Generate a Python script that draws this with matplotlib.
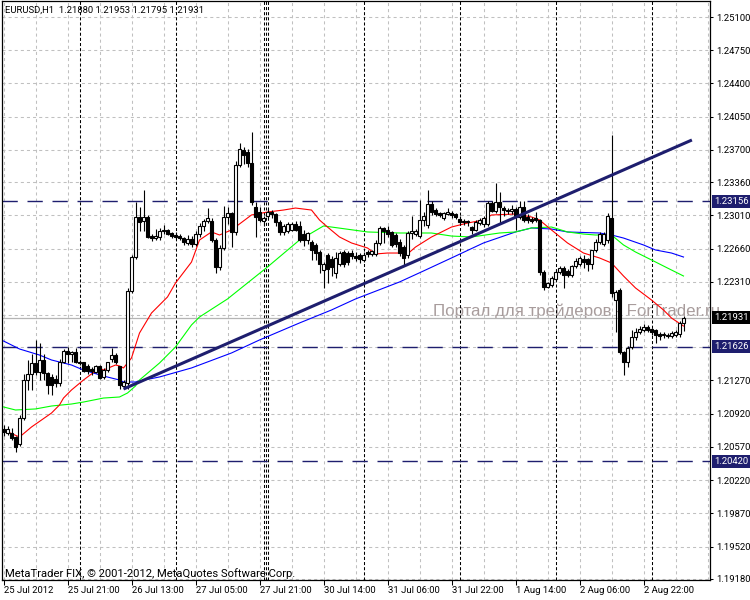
import matplotlib
matplotlib.use("Agg")
import matplotlib.pyplot as plt
import numpy as np

plt.rcParams['font.family'] = ['Roboto', 'DejaVu Sans']
plt.rcParams['lines.scale_dashes'] = False

# ---- hourly EURUSD candles (bar index 0 = 25 Jul 2012 05:00) ----
opens = [1.2076, 1.2072, 1.2072, 1.2067, 1.2060, 1.2087, 1.2127, 1.2134, 1.2145, 1.2136,
         1.2149, 1.2135, 1.2131, 1.2129, 1.2124, 1.2147, 1.2158, 1.2155, 1.2157, 1.2147,
         1.2147, 1.2142, 1.2139, 1.2136, 1.2142, 1.2131, 1.2138, 1.2150, 1.2154, 1.2142,
         1.2121, 1.2124, 1.2221, 1.2257, 1.2299, 1.2295, 1.2299, 1.2279, 1.2277, 1.2278,
         1.2284, 1.2286, 1.2282, 1.2280, 1.2279, 1.2277, 1.2272, 1.2276, 1.2271, 1.2281,
         1.2290, 1.2295, 1.2295, 1.2275, 1.2247, 1.2267, 1.2299, 1.2303, 1.2283, 1.2354,
         1.2370, 1.2368, 1.2356, 1.2310, 1.2305, 1.2295, 1.2300, 1.2305, 1.2302, 1.2294,
         1.2283, 1.2285, 1.2286, 1.2292, 1.2290, 1.2281, 1.2275, 1.2273, 1.2270, 1.2262,
         1.2243, 1.2259, 1.2255, 1.2240, 1.2250, 1.2262, 1.2261, 1.2261, 1.2258, 1.2259,
         1.2254, 1.2262, 1.2260, 1.2260, 1.2272, 1.2288, 1.2286, 1.2283, 1.2280, 1.2273,
         1.2268, 1.2259, 1.2282, 1.2281, 1.2279, 1.2296, 1.2291, 1.2313, 1.2307, 1.2303,
         1.2298, 1.2302, 1.2304, 1.2302, 1.2297, 1.2295, 1.2295, 1.2289, 1.2286, 1.2293,
         1.2292, 1.2292, 1.2314, 1.2306, 1.2315, 1.2309, 1.2307, 1.2306, 1.2308, 1.2299,
         1.2310, 1.2299, 1.2297, 1.2298, 1.2296, 1.2241, 1.2226, 1.2228, 1.2234, 1.2241,
         1.2246, 1.2242, 1.2238, 1.2248, 1.2250, 1.2255, 1.2255, 1.2250, 1.2264, 1.2273,
         1.2271, 1.2275, 1.2298, 1.2212, 1.2222, 1.2157, 1.2146, 1.2162, 1.2173, 1.2178,
         1.2180, 1.2183, 1.2181, 1.2180, 1.2176, 1.2175, 1.2175, 1.2174, 1.2175, 1.2176,
         1.21880]
highs = [1.2080, 1.2079, 1.2077, 1.2068, 1.2091, 1.2134, 1.2149, 1.2155, 1.2170, 1.2167,
         1.2155, 1.2136, 1.2134, 1.2133, 1.2150, 1.2160, 1.2162, 1.2158, 1.2161, 1.2149,
         1.2147, 1.2144, 1.2141, 1.2143, 1.2143, 1.2140, 1.2147, 1.2161, 1.2156, 1.2142,
         1.2127, 1.2224, 1.2259, 1.2315, 1.2310, 1.2328, 1.2301, 1.2281, 1.2287, 1.2288,
         1.2291, 1.2287, 1.2283, 1.2283, 1.2281, 1.2278, 1.2280, 1.2279, 1.2284, 1.2293,
         1.2297, 1.2309, 1.2298, 1.2277, 1.2270, 1.2311, 1.2310, 1.2305, 1.2358, 1.2377,
         1.2373, 1.2371, 1.2389, 1.2315, 1.2310, 1.2300, 1.2308, 1.2307, 1.2304, 1.2296,
         1.2292, 1.2294, 1.2294, 1.2295, 1.2295, 1.2286, 1.2283, 1.2275, 1.2272, 1.2265,
         1.2252, 1.2261, 1.2258, 1.2262, 1.2263, 1.2264, 1.2263, 1.2264, 1.2262, 1.2261,
         1.2262, 1.2264, 1.2265, 1.2275, 1.2290, 1.2289, 1.2290, 1.2285, 1.2282, 1.2276,
         1.2270, 1.2284, 1.2300, 1.2287, 1.2317, 1.2305, 1.2328, 1.2316, 1.2309, 1.2305,
         1.2305, 1.2309, 1.2306, 1.2304, 1.2300, 1.2297, 1.2296, 1.2290, 1.2296, 1.2298,
         1.2300, 1.2316, 1.2316, 1.2335, 1.2326, 1.2311, 1.2309, 1.2312, 1.2310, 1.2316,
         1.2316, 1.2302, 1.2299, 1.2305, 1.2297, 1.2243, 1.2231, 1.2237, 1.2244, 1.2248,
         1.2248, 1.2244, 1.2249, 1.2256, 1.2258, 1.2259, 1.2256, 1.2265, 1.2276, 1.2283,
         1.2283, 1.2303, 1.2386, 1.2222, 1.2224, 1.2158, 1.2163, 1.2180, 1.2182, 1.2184,
         1.2186, 1.2185, 1.2182, 1.2181, 1.2178, 1.2178, 1.2177, 1.2179, 1.2180, 1.2190,
         1.21953]
lows = [1.2069, 1.2070, 1.2064, 1.2052, 1.2058, 1.2085, 1.2117, 1.2117, 1.2133, 1.2128,
        1.2128, 1.2113, 1.2112, 1.2120, 1.2121, 1.2145, 1.2145, 1.2146, 1.2145, 1.2143,
        1.2136, 1.2134, 1.2133, 1.2135, 1.2129, 1.2129, 1.2136, 1.2147, 1.2144, 1.2118,
        1.2118, 1.2118, 1.2219, 1.2255, 1.2285, 1.2285, 1.2277, 1.2274, 1.2275, 1.2275,
        1.2281, 1.2280, 1.2277, 1.2276, 1.2275, 1.2270, 1.2270, 1.2268, 1.2269, 1.2278,
        1.2285, 1.2293, 1.2273, 1.2240, 1.2243, 1.2265, 1.2292, 1.2268, 1.2280, 1.2352,
        1.2355, 1.2352, 1.2312, 1.2278, 1.2294, 1.2290, 1.2298, 1.2298, 1.2290, 1.2280,
        1.2280, 1.2282, 1.2284, 1.2284, 1.2273, 1.2269, 1.2271, 1.2254, 1.2254, 1.2240,
        1.2224, 1.2230, 1.2237, 1.2235, 1.2248, 1.2247, 1.2249, 1.2255, 1.2253, 1.2251,
        1.2252, 1.2257, 1.2258, 1.2258, 1.2270, 1.2272, 1.2278, 1.2268, 1.2268, 1.2258,
        1.2249, 1.2256, 1.2276, 1.2279, 1.2277, 1.2290, 1.2288, 1.2301, 1.2300, 1.2299,
        1.2296, 1.2301, 1.2298, 1.2297, 1.2291, 1.2291, 1.2290, 1.2281, 1.2284, 1.2291,
        1.2289, 1.2290, 1.2305, 1.2304, 1.2293, 1.2300, 1.2302, 1.2302, 1.2286, 1.2297,
        1.2294, 1.2293, 1.2293, 1.2294, 1.2238, 1.2222, 1.2224, 1.2226, 1.2232, 1.2239,
        1.2224, 1.2236, 1.2236, 1.2246, 1.2248, 1.2246, 1.2242, 1.2244, 1.2262, 1.2271,
        1.2269, 1.2272, 1.2215, 1.2178, 1.2155, 1.2133, 1.2141, 1.2160, 1.2170, 1.2176,
        1.2178, 1.2178, 1.2175, 1.2167, 1.2170, 1.2172, 1.2172, 1.2172, 1.2173, 1.2173,
        1.21795]
closes = [1.2073, 1.2076, 1.2066, 1.2057, 1.2087, 1.2127, 1.2134, 1.2145, 1.2136, 1.2149,
          1.2135, 1.2122, 1.2122, 1.2124, 1.2146, 1.2158, 1.2155, 1.2157, 1.2147, 1.2145,
          1.2137, 1.2137, 1.2137, 1.2142, 1.2130, 1.2138, 1.2146, 1.2154, 1.2146, 1.2122,
          1.2125, 1.2221, 1.2257, 1.2299, 1.2294, 1.2299, 1.2278, 1.2277, 1.2279, 1.2284,
          1.2286, 1.2281, 1.2279, 1.2278, 1.2277, 1.2273, 1.2276, 1.2271, 1.2281, 1.2290,
          1.2295, 1.2298, 1.2275, 1.2247, 1.2267, 1.2299, 1.2303, 1.2283, 1.2354, 1.2371,
          1.2365, 1.2356, 1.2315, 1.2299, 1.2296, 1.2298, 1.2305, 1.2302, 1.2294, 1.2283,
          1.2290, 1.2292, 1.2292, 1.2286, 1.2275, 1.2275, 1.2282, 1.2265, 1.2261, 1.2250,
          1.2250, 1.2244, 1.2247, 1.2256, 1.2261, 1.2250, 1.2252, 1.2258, 1.2256, 1.2255,
          1.2259, 1.2260, 1.2263, 1.2272, 1.2288, 1.2284, 1.2281, 1.2270, 1.2271, 1.2261,
          1.2256, 1.2282, 1.2284, 1.2285, 1.2296, 1.2300, 1.2313, 1.2305, 1.2302, 1.2301,
          1.2303, 1.2305, 1.2301, 1.2299, 1.2294, 1.2294, 1.2294, 1.2286, 1.2294, 1.2296,
          1.2298, 1.2314, 1.2306, 1.2315, 1.2310, 1.2307, 1.2306, 1.2308, 1.2300, 1.2310,
          1.2296, 1.2296, 1.2295, 1.2296, 1.2241, 1.2226, 1.2230, 1.2235, 1.2241, 1.2245,
          1.2238, 1.2238, 1.2248, 1.2253, 1.2256, 1.2252, 1.2250, 1.2264, 1.2273, 1.2281,
          1.2281, 1.2300, 1.2219, 1.2220, 1.2157, 1.2146, 1.2161, 1.2173, 1.2178, 1.2181,
          1.2183, 1.2180, 1.2178, 1.2175, 1.2174, 1.2176, 1.2174, 1.2177, 1.2178, 1.2188,
          1.21931]

# ---- moving averages (bar index, price) ----
red_bars = [0, 4, 7, 12, 14, 15, 17, 20, 24, 25, 28, 29, 30, 32, 34, 37, 41, 43, 47, 49,
            52, 54, 57, 62, 66, 70, 73, 77, 79, 81, 84, 87, 91, 93, 96, 99, 101, 103, 107,
            112, 116, 120, 122, 128, 132, 134, 137, 141, 145, 149, 152, 155, 158, 162, 165,
            167, 170]
red_vals = [1.20748, 1.20674, 1.20780, 1.20927, 1.21012, 1.21085, 1.21170, 1.21275, 1.21402,
            1.21380, 1.21433, 1.21423, 1.21402, 1.21507, 1.21770, 1.21981, 1.22150, 1.22297,
            1.22518, 1.22750, 1.22835, 1.22803, 1.22856, 1.23014, 1.23045, 1.23066, 1.23087,
            1.23066, 1.22961, 1.22887, 1.22782, 1.22719, 1.22666, 1.22603, 1.22613, 1.22613,
            1.22603, 1.22676, 1.22782, 1.22887, 1.22929, 1.22961, 1.23014, 1.23024, 1.22993,
            1.22961, 1.22856, 1.22719, 1.22613, 1.22561, 1.22508, 1.22371, 1.22245, 1.22118,
            1.22013, 1.21928, 1.21844]
green_bars = [0, 3, 8, 12, 17, 20, 25, 29, 31, 33, 34, 39, 43, 47, 49, 56, 66, 74, 80, 82,
              91, 99, 107, 112, 117, 124, 128, 132, 137, 141, 145, 148, 152, 155, 158, 162,
              166, 170]
green_vals = [1.20991, 1.20959, 1.20970, 1.21001, 1.21022, 1.21043, 1.21085, 1.21096, 1.21138,
              1.21212, 1.21275, 1.21454, 1.21623, 1.21855, 1.21939, 1.22129, 1.22466, 1.22750,
              1.22898, 1.22887, 1.22835, 1.22824, 1.22824, 1.22792, 1.22782, 1.22824, 1.22835,
              1.22877, 1.22887, 1.22835, 1.22813, 1.22803, 1.22803, 1.22698, 1.22624, 1.22540,
              1.22455, 1.22371]
blue_bars = [0, 4, 9, 12, 17, 20, 25, 29, 30, 33, 34, 39, 47, 57, 64, 74, 82, 88, 99, 105,
             112, 120, 128, 132, 137, 141, 149, 152, 155, 160, 163, 167, 170]
blue_vals = [1.21686, 1.21602, 1.21538, 1.21486, 1.21433, 1.21380, 1.21317, 1.21275, 1.21254,
             1.21254, 1.21265, 1.21307, 1.21402, 1.21560, 1.21697, 1.21876, 1.22013, 1.22129,
             1.22308, 1.22424, 1.22561, 1.22719, 1.22835, 1.22877, 1.22866, 1.22835, 1.22824,
             1.22803, 1.22771, 1.22698, 1.22645, 1.22613, 1.22571]

# ---- objects on the chart ----
trend_bars = [30, 172.1]
trend_vals = [1.21180, 1.23804]
levels = [1.23156, 1.21626, 1.20420]
bid = 1.21931
separators = [19, 43, 65, 65.5, 66, 90, 114, 138, 162]

price_ticks = [1.25100, 1.24750, 1.24400, 1.24050, 1.23700, 1.23360, 1.23010, 1.22660,
               1.22310, 1.21270, 1.20920, 1.20570, 1.20220, 1.19870, 1.19520, 1.19180]
grid_prices = price_ticks + [1.21960, 1.21620]
time_bars = [0, 16, 32, 48, 64, 80, 96, 112, 128, 144, 160]
time_labels = ['25 Jul 2012', '25 Jul 21:00', '26 Jul 13:00', '27 Jul 05:00', '27 Jul 21:00',
               '30 Jul 14:00', '31 Jul 06:00', '31 Jul 22:00', '1 Aug 14:00', '2 Aug 06:00',
               '2 Aug 22:00']

NAVY = '#1e1e6e'

fig = plt.figure(figsize=(7.5, 6), dpi=100)
fig.patch.set_facecolor('white')
ax = fig.add_axes([2 / 750, 20 / 600, 708 / 750, 579 / 600])
ax.set_facecolor('none')
ax.set_xlim(-0.375, 176.625)
ax.set_ylim(1.191677, 1.252686)

# grid
for gb in range(0, 177, 8):
    ax.axvline(gb, color='#c0c0c0', lw=0.75, dashes=(2.2, 2.2), zorder=0)
for gp in grid_prices:
    ax.axhline(gp, color='#c0c0c0', lw=0.75, dashes=(2.2, 2.2), zorder=0)

# day separators
for sb in separators:
    ax.axvline(sb, color='black', lw=0.75, dashes=(2.2, 1.5), zorder=1)

# horizontal levels and bid line
for lv in levels:
    ax.axhline(lv, color=NAVY, lw=1.0, dashes=(11, 7), zorder=2)
ax.axhline(bid, color='#b4b4b4', lw=0.9, zorder=1)

# moving averages
ax.plot(blue_bars, blue_vals, color='#0000ff', lw=0.8, zorder=3)
ax.plot(green_bars, green_vals, color='#00ff00', lw=0.8, zorder=3)
ax.plot(red_bars, red_vals, color='#ff0000', lw=0.8, zorder=3)

# candles
idx = np.arange(len(opens))
o = np.array(opens)
c = np.array(closes)
ax.vlines(idx, lows, highs, color='black', lw=0.8, zorder=4)
up = c >= o
ax.bar(idx[up], (c - o)[up], bottom=o[up], width=0.75, color='white',
       edgecolor='black', linewidth=0.8, zorder=5)
ax.bar(idx[~up], (o - c)[~up], bottom=c[~up], width=0.75, color='black',
       edgecolor='black', linewidth=0.8, zorder=5)

# trend line
ax.plot(trend_bars, trend_vals, color=NAVY, lw=2.2, solid_capstyle='butt', zorder=6)

# axes styling
for s in ax.spines.values():
    s.set_color('black')
    s.set_linewidth(0.9)
ax.yaxis.tick_right()
ax.set_yticks(price_ticks)
ax.set_yticklabels(['%.5f' % p for p in price_ticks])
ax.set_xticks(time_bars)
ax.set_xticklabels(time_labels)
for lab in ax.get_xticklabels():
    lab.set_horizontalalignment('left')
ax.tick_params(axis='y', direction='out', length=2.5, width=0.75, pad=1.8,
               labelsize=6.8, colors='black')
ax.tick_params(axis='x', direction='out', length=3.5, width=0.75, pad=1.0,
               labelsize=6.8, colors='black')

# highlighted price labels
for lv in levels:
    ax.annotate('%.5f' % lv, xy=(1, lv), xycoords=ax.get_yaxis_transform(),
                xytext=(3.2, 0), textcoords='offset points', va='center', ha='left',
                fontsize=6.8, color='white', annotation_clip=False, zorder=10,
                bbox=dict(boxstyle='square,pad=0.22', fc=NAVY, ec='none'))
ax.annotate('%.5f' % bid, xy=(1, bid), xycoords=ax.get_yaxis_transform(),
            xytext=(3.2, 0), textcoords='offset points', va='center', ha='left',
            fontsize=6.8, color='white', annotation_clip=False, zorder=10,
            bbox=dict(boxstyle='square,pad=0.22', fc='black', ec='none'))

# texts
fig.text(5 / 750, 1 - 10 / 600, 'EURUSD,H1  1.21880 1.21953 1.21795 1.21931',
         fontsize=6.8, va='center', ha='left')
fig.text(5 / 750, 1 - 574 / 600, 'MetaTrader FIX, © 2001-2012, MetaQuotes Software Corp.',
         fontsize=8.1, va='center', ha='left')
fig.text(433 / 750, 1 - 316 / 600, 'Портал для трейдеров - ForTrader.ru',
         family=['Liberation Sans', 'DejaVu Sans'], fontsize=12.2, color='#a89c9c',
         va='baseline', ha='left', zorder=-1)

fig.savefig('out.png', dpi=100)
